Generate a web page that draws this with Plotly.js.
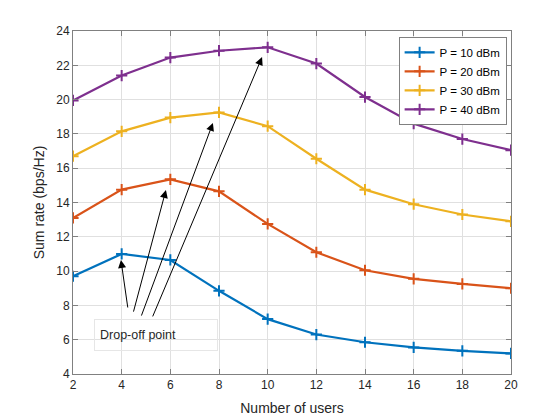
<!DOCTYPE html>
<html><head><meta charset="utf-8">
<script src="https://cdn.plot.ly/plotly-3.0.1.min.js"></script>
<style>body{margin:0;background:#fff}#chart{width:560px;height:420px}</style>
</head><body><div id="chart"></div>
<script>
const users = [2, 4, 6, 8, 10, 12, 14, 16, 18, 20];
const p10 = [9.7, 11.0, 10.65, 8.85, 7.2, 6.3, 5.85, 5.55, 5.35, 5.2];
const p20 = [13.1, 14.75, 15.35, 14.65, 12.75, 11.1, 10.05, 9.55, 9.25, 9.0];
const p30 = [16.7, 18.15, 18.95, 19.25, 18.45, 16.55, 14.75, 13.9, 13.3, 12.9];
const p40 = [19.95, 21.4, 22.45, 22.85, 23.05, 22.1, 20.15, 18.6, 17.7, 17.05];
const seriesNames = ['P = 10 dBm', 'P = 20 dBm', 'P = 30 dBm', 'P = 40 dBm'];
const seriesColors = ['#0072BD', '#D95319', '#EDB120', '#7E2F8E'];
const seriesData = [p10, p20, p30, p40];
const xTicks = [2, 4, 6, 8, 10, 12, 14, 16, 18, 20];
const yTicks = [4, 6, 8, 10, 12, 14, 16, 18, 20, 22, 24];
const arrowHeads = [[3.97, 10.65], [5.82, 14.73], [7.75, 18.64], [9.77, 22.48]];
const arrowTails = [[4.26, 7.79], [4.47, 7.55], [4.79, 7.32], [5.25, 7.27]];
const noteText = 'Drop-off point';
const notePos = [2.86, 6.27];

const FONT = 'Liberation Sans, Arial, sans-serif';

const traces = seriesData.map((d, i) => ({
  x: users, y: d, name: seriesNames[i], type: 'scatter', mode: 'lines+markers',
  line: {color: seriesColors[i], width: 2.2},
  marker: {symbol: 'cross-thin', size: 8, line: {color: seriesColors[i], width: 2}}
}));

const annotations = arrowHeads.map((h, i) => ({
  x: h[0], y: h[1], xref: 'x', yref: 'y',
  ax: arrowTails[i][0], ay: arrowTails[i][1], axref: 'x', ayref: 'y',
  text: '', showarrow: true, arrowhead: 2, arrowsize: 1.6, arrowwidth: 1, arrowcolor: '#000'
}));
annotations.push({
  x: notePos[0], y: notePos[1], xref: 'x', yref: 'y', text: noteText, showarrow: false,
  font: {family: FONT, size: 12.5, color: '#262626'},
  bordercolor: '#e6e6e6', borderwidth: 1, borderpad: 5, bgcolor: 'rgba(255,255,255,0)',
  width: 112, height: 20, align: 'left', xanchor: 'left', yanchor: 'middle'
});

const axisCommon = {
  showline: true, linecolor: '#808080', linewidth: 1, mirror: 'ticks',
  ticks: 'inside', ticklen: 5, tickcolor: '#808080', showgrid: true,
  gridcolor: '#e0e0e0', gridwidth: 1, zeroline: false,
  tickfont: {family: FONT, size: 12, color: '#262626'}
};

const layout = {
  width: 560, height: 420, paper_bgcolor: '#fff', plot_bgcolor: '#fff',
  margin: {l: 73, r: 49, t: 31, b: 46},
  showlegend: true,
  legend: {x: 0.99, y: 0.983, xanchor: 'right', yanchor: 'top', bgcolor: '#fff',
    bordercolor: '#808080', borderwidth: 1,
    font: {family: FONT, size: 11.5, color: '#000'},
    tracegroupgap: 0, itemwidth: 30},
  xaxis: Object.assign({}, axisCommon, {range: [2, 20], tickvals: xTicks,
    title: {text: 'Number of users', standoff: 11,
      font: {family: FONT, size: 14, color: '#262626'}}}),
  yaxis: Object.assign({}, axisCommon, {range: [4, 24], tickvals: yTicks,
    title: {text: 'Sum rate (bps/Hz)', standoff: 8,
      font: {family: FONT, size: 14, color: '#262626'}}}),
  annotations: annotations
};

Plotly.newPlot('chart', traces, layout, {displayModeBar: false, staticPlot: true});
</script></body></html>
